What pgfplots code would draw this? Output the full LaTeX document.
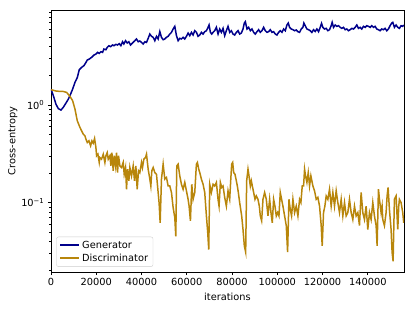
\documentclass[border=0pt]{standalone}
\usepackage{fontspec}
\setmainfont{DejaVu Sans}
\usepackage{pgfplots}
\pgfplotsset{compat=1.18}
\definecolor{gen}{HTML}{00008B}
\definecolor{dis}{HTML}{B8860B}
\begin{document}
\fontsize{9.8bp}{11.5bp}\selectfont
\begin{tikzpicture}
\begin{axis}[
  at={(0,0)}, anchor=south west,
  scale only axis, width=353bp, height=262bp,
  ymode=log, xmin=0, xmax=156000, ymin=0.0194, ymax=9.46,
  scaled x ticks=false,
  xtick={0,20000,40000,60000,80000,100000,120000,140000},
  xticklabels={0,20000,40000,60000,80000,100000,120000,140000},
  ytick={0.1,1}, yticklabels={10\textsuperscript{−1},10\textsuperscript{0}},
  minor ytick={0.02,0.03,0.04,0.05,0.06,0.07,0.08,0.09,0.2,0.3,0.4,0.5,0.6,0.7,0.8,0.9,2,3,4,5,6,7,8,9},
  tick align=outside, tick pos=left,
  major tick length=3.2bp, minor tick length=1.9bp,
  every tick/.style={black, line width=0.6bp},
  axis line style={line width=0.6bp},
  xlabel={iterations}, ylabel={Cross-entropy},
  xlabel style={yshift=0bp}, ylabel style={yshift=-3bp},
  legend style={at={(0.015,0.02)}, anchor=south west, draw=black!20, rounded corners=2bp, inner xsep=3bp, inner ysep=2bp, row sep=0bp},
  legend cell align=left,
  legend image code/.code={\draw[#1, line width=1.7bp] (0bp,0.25bp) -- (19bp,0.25bp);},
]
\addplot[gen, line width=1.5bp] coordinates {
(0,1.46)(1030,1.25)(2210,1.02)(3240,0.92)(4410,0.89)(5440,0.95)(6620,1.05)(7650,1.15)(8680,1.30)(9560,1.46)
(10590,1.71)(11620,1.92)(12500,2.31)(13530,2.44)(14560,2.54)(15440,2.74)(16030,2.90)(16910,2.97)(17940,3.09)(18970,3.26)
(19850,3.34)(20590,3.48)(21320,3.39)(22060,3.53)(22790,3.48)(23380,3.76)(24260,3.70)(24850,3.91)(25590,4.07)(26320,3.98)
(27210,4.14)(27790,4.07)(28680,4.20)(29410,4.14)(30150,4.27)(30880,4.07)(31620,4.47)(32210,4.24)(32940,4.58)(33680,4.34)
(34410,4.47)(35150,4.14)(36030,4.34)(37060,4.58)(37790,4.77)(38530,4.47)(39260,4.55)(40000,4.40)(40740,4.24)(41470,4.47)
(42210,4.40)(42940,4.84)(43680,5.36)(44410,5.08)(45150,4.96)(45880,4.58)(46620,5.08)(47350,4.77)(48090,5.69)(48820,4.96)
(49560,4.69)(50290,4.77)(51030,4.96)(51770,5.08)(52500,5.36)(53240,5.58)(53970,6.04)(54710,6.43)(55440,5.16)(56180,4.58)
(56910,4.84)(57650,4.77)(58380,4.96)(59120,4.77)(59850,5.08)(60590,5.49)(61320,5.16)(62060,5.58)(62790,5.24)(63530,5.80)
(64260,5.58)(65000,5.08)(65740,5.24)(66470,5.58)(67210,5.36)(67940,5.67)(68680,5.80)(69410,6.28)(69850,6.64)(70440,5.58)
(71030,5.36)(71620,5.58)(72350,5.80)(73090,6.28)(73820,5.36)(74560,6.04)(75290,5.58)(76030,6.13)(76760,5.16)(77500,5.80)
(78230,6.43)(78970,5.58)(79710,5.80)(80440,5.36)(81180,5.24)(81910,5.58)(82650,5.80)(83380,5.36)(84120,5.49)(84850,6.04)
(85440,6.96)(85880,7.18)(86620,6.04)(87350,6.28)(88090,5.80)(88820,6.04)(89560,5.58)(90290,5.36)(91030,5.67)(91760,5.94)
(92500,5.58)(93240,5.80)(93970,6.28)(94710,5.80)(95440,5.58)(96180,5.67)(96910,5.94)(97650,5.58)(98380,5.67)(99120,5.36)
(99850,5.24)(100590,5.58)(101320,5.80)(102060,5.58)(102790,6.04)(103530,5.80)(104260,6.64)(104850,6.96)(105440,6.28)(106180,6.04)
(106910,5.94)(107650,5.80)(108380,5.90)(109120,5.67)(109850,5.58)(110590,6.04)(111320,6.28)(111760,6.96)(112350,6.53)(113090,6.04)
(113820,5.94)(114560,5.80)(115290,5.58)(116030,5.94)(116760,5.69)(117500,6.04)(118240,5.67)(118970,6.28)(119560,6.90)(120150,6.28)
(120880,6.04)(121620,6.13)(122350,5.80)(123090,5.94)(123820,6.53)(124260,7.07)(124850,6.28)(125590,6.64)(126320,6.43)(127060,6.53)
(127790,6.28)(128530,6.13)(129260,6.28)(130000,5.94)(130740,6.04)(131470,5.80)(132210,5.94)(132940,6.13)(133680,6.04)(134410,6.28)
(135150,6.64)(135880,6.13)(136620,6.28)(137350,6.04)(138090,6.43)(138820,6.28)(139560,6.53)(140290,6.43)(141030,6.28)(141760,6.53)
(142500,6.28)(143240,6.43)(143970,6.04)(144710,5.94)(145440,5.80)(146180,6.04)(146910,5.94)(147650,6.13)(148380,5.80)(149120,6.04)
(149850,6.53)(150590,6.96)(151030,7.07)(151760,6.28)(152500,6.64)(153240,6.28)(153970,6.13)(154710,6.53)(155440,6.43)(155880,6.64)
};
\addlegendentry{Generator}
\addplot[dis, line width=1.5bp] coordinates {
(0,1.44)(2500,1.39)(5440,1.38)(6910,1.35)(8380,1.23)(9560,1.11)(10590,0.91)(11620,0.69)(12790,0.59)(13530,0.545)
(14260,0.504)(15000,0.484)(15440,0.447)(16030,0.414)(16760,0.430)(17500,0.382)(18090,0.430)(18680,0.407)(19260,0.454)(19850,0.367)
(20150,0.302)(20740,0.314)(21320,0.258)(21620,0.290)(22350,0.279)(23090,0.314)(23820,0.258)(24260,0.302)(24850,0.326)(25290,0.279)
(26030,0.302)(26470,0.238)(26910,0.326)(27500,0.212)(27940,0.302)(28530,0.238)(28970,0.326)(29410,0.203)(29850,0.302)(30440,0.238)
(31180,0.229)(31910,0.258)(32350,0.195)(32940,0.229)(33380,0.137)(33820,0.220)(34410,0.167)(34850,0.229)(35590,0.188)(36320,0.238)
(36910,0.167)(37500,0.238)(38090,0.137)(38680,0.212)(39260,0.203)(40000,0.258)(40440,0.229)(41030,0.279)(41770,0.290)(42210,0.314)
(42940,0.220)(43680,0.174)(44120,0.148)(44560,0.212)(45150,0.229)(45880,0.203)(46620,0.195)(47350,0.127)(47790,0.098)(48240,0.062)
(48820,0.174)(49560,0.248)(50290,0.174)(51030,0.181)(51770,0.148)(52500,0.148)(53240,0.127)(53970,0.089)(54710,0.070)(55150,0.045)
(55590,0.238)(56180,0.248)(56910,0.188)(57650,0.154)(58380,0.137)(59120,0.161)(59850,0.132)(60590,0.108)(61030,0.092)(61620,0.065)
(62210,0.154)(62790,0.108)(63530,0.127)(64260,0.248)(64710,0.258)(65290,0.220)(65740,0.203)(66470,0.174)(67210,0.154)(67940,0.127)
(68680,0.073)(69270,0.049)(69710,0.033)(70150,0.154)(70880,0.127)(71620,0.154)(72350,0.148)(73090,0.161)(73820,0.108)(74270,0.092)
(74850,0.161)(75440,0.143)(76030,0.148)(76760,0.113)(77500,0.092)(78230,0.132)(78970,0.108)(79410,0.167)(79850,0.248)(80290,0.258)
(80740,0.203)(81320,0.195)(81910,0.167)(82350,0.148)(82790,0.127)(83380,0.100)(84270,0.073)(84850,0.053)(85440,0.036)(86030,0.031)
(86470,0.167)(87060,0.220)(87500,0.188)(88090,0.148)(88530,0.167)(88970,0.148)(89560,0.127)(90150,0.108)(90740,0.117)(91470,0.108)
(92060,0.092)(92500,0.073)(93090,0.065)(93680,0.108)(94410,0.127)(95150,0.108)(95880,0.073)(96620,0.108)(97210,0.079)(97790,0.062)
(98380,0.108)(98970,0.092)(99560,0.073)(100150,0.079)(100740,0.073)(101320,0.127)(101910,0.108)(102500,0.092)(103240,0.073)(103970,0.058)
(104560,0.031)(105150,0.108)(105740,0.085)(106320,0.073)(106910,0.108)(107650,0.079)(108380,0.092)(109120,0.073)(109850,0.108)(110440,0.100)
(111030,0.148)(111620,0.148)(112060,0.220)(112500,0.188)(113090,0.161)(113680,0.203)(114260,0.148)(114850,0.188)(115290,0.167)(115740,0.148)
(116470,0.132)(117210,0.108)(117940,0.113)(118680,0.092)(119410,0.058)(119850,0.036)(120440,0.079)(121030,0.092)(121620,0.117)(122350,0.108)
(123090,0.137)(123820,0.092)(124560,0.127)(125290,0.092)(126030,0.132)(126760,0.100)(127500,0.079)(128240,0.108)(128970,0.073)(129710,0.100)
(130440,0.073)(131180,0.079)(131910,0.108)(132650,0.079)(133380,0.067)(134120,0.092)(134850,0.073)(135590,0.079)(136320,0.058)(137060,0.127)
(137790,0.079)(138530,0.067)(139260,0.092)(140000,0.053)(140740,0.079)(141470,0.067)(142210,0.100)(142940,0.073)(143680,0.058)(144120,0.036)
(144710,0.137)(145150,0.108)(145880,0.079)(146320,0.092)(146620,0.067)(147350,0.058)(148090,0.079)(148530,0.117)(148970,0.143)(149560,0.085)
(150290,0.053)(150740,0.031)(151180,0.025)(151760,0.108)(152500,0.117)(153240,0.053)(153680,0.092)(153970,0.108)(154710,0.100)(155440,0.079)
(155880,0.062)
};
\addlegendentry{Discriminator}
\end{axis}
\pgfresetboundingbox
\path[use as bounding box] (-51bp,-39bp) rectangle (364bp,272bp);
\end{tikzpicture}
\end{document}
